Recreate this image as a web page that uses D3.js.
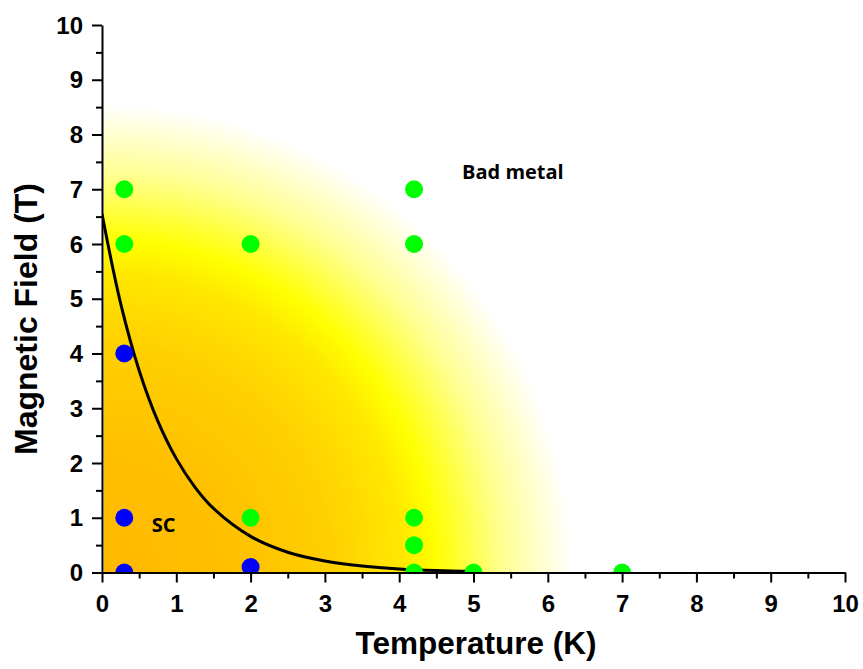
<!DOCTYPE html>
<html><head><meta charset="utf-8">
<script src="https://cdn.jsdelivr.net/npm/d3@7"></script>
<style>html,body{margin:0;padding:0;background:#fff;}</style>
</head><body>
<svg id="chart" width="863" height="669"></svg>
<script>
// ---- data ----
const xTicks = [0,1,2,3,4,5,6,7,8,9,10];
const yTicks = [0,1,2,3,4,5,6,7,8,9,10];
const greenT = [0.3, 0.3, 2, 4.2, 4.2, 2, 4.2, 4.2, 4.2, 5, 7];
const greenB = [7, 6, 6, 7, 6, 1, 1, 0.5, 0, 0, 0];
const blueT = [0.3, 0.3, 0.3, 2];
const blueB = [4, 1, 0, 0.1];
const curveT = [0, 0.25, 0.5, 0.75, 1, 1.25, 1.5, 2, 2.5, 3, 3.5, 4, 4.5, 5];
const curveB = [6.55, 4.92, 3.69, 2.77, 2.08, 1.56, 1.17, 0.66, 0.37, 0.21, 0.12, 0.066, 0.037, 0.021];
const labels = [{text:"SC", t:0.83, b:0.74}, {text:"Bad metal", t:5.53, b:7.18}];

// ---- layout ----
const svg = d3.select("#chart");
const x = d3.scaleLinear().domain([0,10]).range([102,845]);
const y = d3.scaleLinear().domain([0,10]).range([572.5,25]);

const defs = svg.append("defs");
const grad = defs.append("radialGradient").attr("id","phase")
  .attr("gradientUnits","userSpaceOnUse")
  .attr("cx", x(0)+2).attr("cy", y(0)).attr("r", 468)
  .attr("fx", x(0)+2).attr("fy", y(0));
[[0,"#FFB800"],[0.27,"#FFC000"],[0.49,"#FFD000"],[0.64,"#FFE800"],[0.71,"#FFFF00"],[0.85,"#FFFF90"],[1,"#FFFFFF"]].forEach(s=>{
  grad.append("stop").attr("offset",s[0]).attr("stop-color",s[1]);
});
defs.append("clipPath").attr("id","plotclip").append("rect")
  .attr("x", x(0)).attr("y", y(10)).attr("width", x(10)-x(0)).attr("height", y(0)-y(10));

const plot = svg.append("g").attr("clip-path","url(#plotclip)");
plot.append("rect")
  .attr("x", x(0)+2).attr("y", y(10)).attr("width", x(10)-x(0)-2).attr("height", y(0)-y(10))
  .attr("fill","url(#phase)");

const line = d3.line().x(d=>x(d[0])).y(d=>y(d[1])).curve(d3.curveCatmullRom);
plot.append("path").datum(curveT.map((t,i)=>[t,curveB[i]]))
  .attr("d", line).attr("fill","none").attr("stroke","#000").attr("stroke-width",3);

plot.selectAll("circle.g").data(greenT.map((t,i)=>[t,greenB[i]])).join("circle")
  .attr("class","g").attr("cx",d=>x(d[0])).attr("cy",d=>y(d[1])).attr("r",9).attr("fill","#00FF00");
plot.selectAll("circle.b").data(blueT.map((t,i)=>[t,blueB[i]])).join("circle")
  .attr("class","b").attr("cx",d=>x(d[0])).attr("cy",d=>y(d[1])).attr("r",9).attr("fill","#0000FF");

svg.selectAll("text.lab").data(labels).join("text").attr("class","lab")
  .attr("x",d=>x(d.t)).attr("y",d=>y(d.b)).attr("text-anchor","middle")
  .attr("font-family","'Open Sans', sans-serif").attr("font-weight",700).attr("font-size",20)
  .attr("fill","#000").text(d=>d.text);

// ---- axes ----
const minorX = d3.range(0.5,10,1), minorY = d3.range(0.5,10,1);
function styleAxis(g){
  g.select(".domain").attr("stroke","#000").attr("stroke-width",2);
  g.selectAll(".tick line").attr("stroke","#000").attr("stroke-width",2);
  g.selectAll(".tick text").attr("font-family","'Liberation Sans', Arial, sans-serif")
    .attr("font-weight",700).attr("font-size",24).attr("fill","#000");
}
const gxMinor = svg.append("g").attr("transform",`translate(0,${y(0)})`)
  .call(d3.axisBottom(x).tickValues(minorX).tickSize(6).tickFormat(""));
gxMinor.select(".domain").remove();
gxMinor.selectAll(".tick line").attr("stroke","#000").attr("stroke-width",2);
const gyMinor = svg.append("g").attr("transform",`translate(${x(0)},0)`)
  .call(d3.axisLeft(y).tickValues(minorY).tickSize(6).tickFormat(""));
gyMinor.select(".domain").remove();
gyMinor.selectAll(".tick line").attr("stroke","#000").attr("stroke-width",2);

const gx = svg.append("g").attr("transform",`translate(0,${y(0)})`)
  .call(d3.axisBottom(x).tickValues(xTicks).tickSize(10).tickSizeOuter(0).tickPadding(11).tickFormat(d3.format("d")));
styleAxis(gx);
gx.selectAll(".tick text").attr("dy","0.76em");
const gy = svg.append("g").attr("transform",`translate(${x(0)},0)`)
  .call(d3.axisLeft(y).tickValues(yTicks).tickSize(10).tickSizeOuter(0).tickPadding(9).tickFormat(d3.format("d")));
styleAxis(gy);
gy.selectAll(".tick text").attr("dy","0.34em");

svg.append("text").attr("x",476).attr("y",654).attr("text-anchor","middle")
  .attr("font-family","'Liberation Sans', Arial, sans-serif").attr("font-weight",700).attr("font-size",31.5)
  .text("Temperature (K)");
svg.append("text").attr("transform","translate(37,319) rotate(-90)").attr("text-anchor","middle")
  .attr("font-family","'Liberation Sans', Arial, sans-serif").attr("font-weight",700).attr("font-size",32)
  .text("Magnetic Field (T)");
</script>
</body></html>
